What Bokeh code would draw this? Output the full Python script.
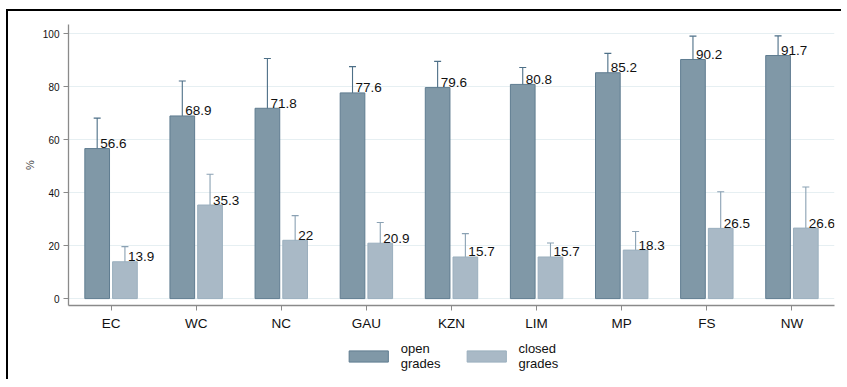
from bokeh.plotting import figure
from bokeh.layouts import column
from bokeh.models import (ColumnDataSource, FactorRange, Range1d, Whisker, TeeHead,
                          Legend, LegendItem, FixedTicker)
from bokeh.transform import dodge
from bokeh.core.properties import value
from bokeh.embed import file_html
from bokeh.resources import INLINE

# Provinces
provinces = ["EC", "WC", "NC", "GAU", "KZN", "LIM", "MP", "FS", "NW"]

# Share (%) with 95% confidence bounds
open_pct = [56.6, 68.9, 71.8, 77.6, 79.6, 80.8, 85.2, 90.2, 91.7]
open_lo = [45.2, 55.8, 53.3, 68.2, 70.0, 74.6, 78.2, 81.9, 84.6]
open_hi = [68.1, 82.1, 90.6, 87.5, 89.5, 87.2, 92.5, 99.0, 99.1]

closed_pct = [13.9, 35.3, 22, 20.9, 15.7, 15.7, 18.3, 26.5, 26.6]
closed_lo = [8.4, 23.7, 12.7, 13.6, 7.2, 10.6, 11.6, 12.7, 11.3]
closed_hi = [19.6, 46.9, 31.3, 28.7, 24.5, 21.0, 25.3, 40.3, 42.1]

y_ticks = [0, 20, 40, 60, 80, 100]

FONT = "Liberation Sans"
OPEN_FILL, OPEN_LINE, OPEN_ERR = "#8098a7", "#5f7c90", "#4d6f87"
CLOSED_FILL, CLOSED_LINE, CLOSED_ERR = "#a9b9c6", "#9aafbe", "#8aa1b3"
AXIS_COLOR = "#8a8a8a"

src = ColumnDataSource(dict(
    prov=provinces,
    open=open_pct, open_lo=open_lo, open_hi=open_hi,
    open_txt=[f"{v:g}" for v in open_pct],
    closed=closed_pct, closed_lo=closed_lo, closed_hi=closed_hi,
    closed_txt=[f"{v:g}" for v in closed_pct],
))

p = figure(
    width=835, height=330,
    x_range=FactorRange(*provinces, range_padding=0),
    y_range=Range1d(-2.6, 103.4),
    output_backend="svg", toolbar_location=None,
    min_border_left=60, min_border_right=1, min_border_top=13, min_border_bottom=36,
)
p.outline_line_color = None
p.background_fill_color = "white"

OFF = 0.163
W = 0.29

open_style = dict(fill_color=OPEN_FILL, line_color=OPEN_LINE, line_width=1)
closed_style = dict(fill_color=CLOSED_FILL, line_color=CLOSED_LINE, line_width=1)

p.vbar(x=dodge("prov", -OFF, range=p.x_range), top="open", bottom=0, width=W,
       source=src, **open_style)
p.vbar(x=dodge("prov", OFF, range=p.x_range), top="closed", bottom=0, width=W,
       source=src, **closed_style)

# Confidence interval whiskers
for off, lo, hi, col in [(-OFF, "open_lo", "open_hi", OPEN_ERR),
                         (OFF, "closed_lo", "closed_hi", CLOSED_ERR)]:
    w = Whisker(source=src, base=dodge("prov", off, range=p.x_range), lower=lo, upper=hi,
                line_color=col, line_width=1.1,
                upper_head=TeeHead(size=7, line_color=col, line_width=1.1),
                lower_head=TeeHead(size=7, line_color=col, line_width=1.1))
    p.add_layout(w)

# Value labels, baseline a few pixels above each bar top
for off, col, txt in [(-OFF, "open", "open_txt"), (OFF, "closed", "closed_txt")]:
    p.text(x=dodge("prov", off, range=p.x_range), y=col, text=txt, source=src,
           x_offset=3, y_offset=-5, text_baseline="alphabetic", text_align="left",
           text_font=value(FONT), text_font_size="13.5px", text_color="#111111")

# Axes
p.yaxis.ticker = FixedTicker(ticks=y_ticks)
p.yaxis.axis_label = "%"
p.yaxis.axis_label_text_font = FONT
p.yaxis.axis_label_text_font_style = "normal"
p.yaxis.axis_label_text_font_size = "11px"
p.yaxis.axis_label_standoff = 4
p.yaxis.major_label_text_font = FONT
p.yaxis.major_label_text_font_size = "10px"
p.yaxis.major_label_standoff = 4
p.yaxis.major_label_orientation = "horizontal"

p.xaxis.major_label_text_font = FONT
p.xaxis.major_label_text_font_size = "13.5px"
p.xaxis.major_label_standoff = 5

for ax in (p.xaxis, p.yaxis):
    ax.axis_line_color = AXIS_COLOR
    ax.axis_line_width = 1.3
    ax.major_tick_line_color = AXIS_COLOR
    ax.major_tick_out = 5
    ax.major_tick_in = 0
    ax.minor_tick_line_color = None
    ax.major_label_text_color = "#111111"

p.xgrid.grid_line_color = None
p.ygrid.grid_line_color = "#e6eff2"
p.ygrid.grid_line_width = 1
p.ygrid.ticker = FixedTicker(ticks=y_ticks)

# Legend strip under the chart.
# The key bars use the same series but sit outside the strip's visible y range.
lf = figure(width=835, height=40,
            x_range=FactorRange(*provinces, range_padding=0), y_range=Range1d(1000, 1001),
            x_axis_type=None, y_axis_type=None,
            output_backend="svg", toolbar_location=None,
            min_border_left=60, min_border_right=9, min_border_top=0, min_border_bottom=0)
lf.outline_line_color = None
lf.xgrid.visible = False
lf.ygrid.visible = False
k_open = lf.vbar(x="prov", top="open", bottom=0, width=W, source=src, **open_style)
k_closed = lf.vbar(x="prov", top="closed", bottom=0, width=W, source=src, **closed_style)

legend = Legend(
    items=[LegendItem(label="open\ngrades", renderers=[k_open], index=0),
           LegendItem(label="closed\ngrades", renderers=[k_closed], index=0)],
    orientation="horizontal", location="top_center",
    glyph_width=49, glyph_height=14, label_standoff=8, spacing=21,
    label_text_font=FONT, label_text_font_size="13px", label_text_color="#111111",
    label_text_line_height=1.0,
    border_line_color=None, background_fill_alpha=0, margin=0, padding=3,
)
lf.add_layout(legend)

# Page with a dark rule along the top and left edges only (offset shadow)
page = column(p, lf, spacing=0, margin=(11, 0, 0, 8),
              styles={"box-shadow": "-2px -2px 0 0 black"})

open("out.html", "w").write(file_html(page, INLINE))
